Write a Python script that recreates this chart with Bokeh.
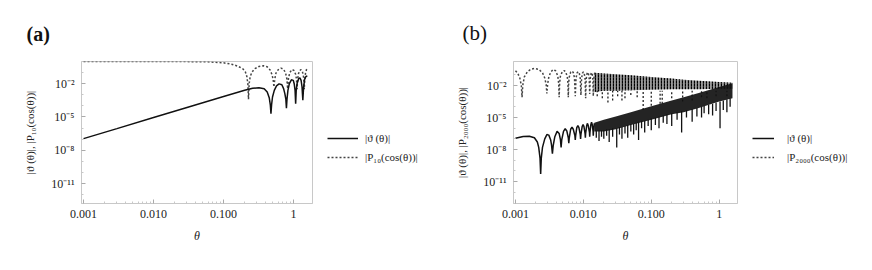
import numpy as np
from bokeh.plotting import figure
from bokeh.models import Range1d, FixedTicker, Legend, LegendItem, Title
from bokeh.layouts import row
from bokeh.embed import file_html
from bokeh.resources import INLINE

FONT = "Liberation Serif"

# ---------------- axes ----------------
x_ticks = [0.001, 0.01, 0.1, 1.0]
x_tick_labels = ["0.001", "0.010", "0.100", "1"]
x_minor = [0.002, 0.003, 0.004, 0.005, 0.006, 0.007, 0.008, 0.009,
           0.02, 0.03, 0.04, 0.05, 0.06, 0.07, 0.08, 0.09,
           0.2, 0.3, 0.4, 0.5, 0.6, 0.7, 0.8, 0.9]
y_ticks = [1e-2, 1e-5, 1e-8, 1e-11]
y_tick_labels = ["10⁻²", "10⁻⁵", "10⁻⁸", "10⁻¹¹"]
y_minor = [1e-1, 1e-3, 1e-4, 1e-6, 1e-7, 1e-9, 1e-10, 1e-12]

# ---------------- panel (a) data (theta, log10 value) ----------------
a_solid = [(0.001, -6.95), (0.003, -6.05), (0.01, -5.05), (0.03, -4.15), (0.1, -3.15),
           (0.2, -2.6), (0.26, -2.42), (0.32, -2.36), (0.38, -2.45), (0.42, -2.75),
           (0.45, -3.3), (0.465, -3.9), (0.475, -4.7), (0.485, -3.9), (0.50, -3.2),
           (0.53, -2.6), (0.57, -2.2), (0.62, -2.02), (0.68, -2.1), (0.72, -2.45),
           (0.75, -2.9), (0.775, -3.4), (0.79, -4.2), (0.805, -3.4), (0.83, -2.6),
           (0.87, -2.0), (0.93, -1.65), (0.99, -1.7), (1.02, -2.0), (1.05, -2.6),
           (1.07, -3.8), (1.09, -2.6), (1.12, -2.0), (1.18, -1.55), (1.23, -1.48),
           (1.28, -1.7), (1.32, -2.3), (1.355, -3.5), (1.39, -2.3), (1.44, -1.6),
           (1.5, -1.35), (1.5708, -1.3)]
a_dashed = [(0.001, -0.01), (0.03, -0.01), (0.06, -0.03), (0.1, -0.12), (0.13, -0.24),
            (0.16, -0.42), (0.19, -0.68), (0.205, -0.95), (0.215, -1.35), (0.222, -2.0),
            (0.227, -3.4), (0.232, -2.0), (0.24, -1.35), (0.255, -0.95), (0.28, -0.65),
            (0.32, -0.45), (0.37, -0.38), (0.42, -0.48), (0.46, -0.75), (0.49, -1.15),
            (0.51, -1.6), (0.524, -2.3), (0.538, -1.6), (0.56, -1.05), (0.6, -0.75),
            (0.66, -0.6), (0.72, -0.7), (0.77, -1.05), (0.80, -1.55), (0.822, -2.45),
            (0.845, -1.55), (0.88, -1.0), (0.95, -0.72), (1.01, -0.8), (1.07, -1.15),
            (1.10, -1.6), (1.12, -2.5), (1.14, -1.6), (1.18, -1.05), (1.26, -0.73),
            (1.33, -0.85), (1.38, -1.3), (1.40, -1.7), (1.42, -2.5), (1.44, -1.7),
            (1.48, -1.05), (1.53, -0.72), (1.5708, -0.61)]

# ---------------- panel (b) data ----------------
b_dashed = [(0.001, -0.62), (0.00108, -0.85), (0.00116, -1.3), (0.00122, -2.0), (0.00125, -3.1),
            (0.00128, -2.0), (0.00135, -1.2), (0.0015, -0.7), (0.0017, -0.47), (0.0019, -0.4),
            (0.0022, -0.48), (0.0025, -0.8), (0.0027, -1.3), (0.00283, -1.9), (0.0029, -2.75),
            (0.00297, -1.9), (0.0031, -1.2), (0.0033, -0.75), (0.0036, -0.5), (0.0039, -0.62),
            (0.0042, -1.1), (0.00433, -1.8), (0.0044, -3.1), (0.00447, -1.8), (0.0046, -1.1),
            (0.0049, -0.7), (0.0052, -0.6), (0.0055, -0.72), (0.0058, -1.2), (0.00593, -1.8),
            (0.006, -3.1), (0.00607, -1.8), (0.0062, -1.2), (0.0065, -0.75), (0.0068, -0.65),
            (0.0071, -0.78), (0.0074, -1.3), (0.0076, -3.0), (0.0078, -1.3), (0.0081, -0.8),
            (0.0084, -0.7), (0.0087, -0.82), (0.009, -1.35), (0.0092, -2.9), (0.0094, -1.35),
            (0.0097, -0.85), (0.01, -0.72), (0.0103, -0.85), (0.0106, -1.4), (0.0108, -3.2),
            (0.011, -1.4), (0.0113, -0.9), (0.0116, -0.76), (0.0119, -0.9), (0.0122, -1.4),
            (0.0124, -2.8), (0.0126, -1.4), (0.0129, -0.92), (0.0132, -0.78), (0.0135, -0.92),
            (0.0138, -1.45), (0.014, -3.0), (0.0142, -1.45), (0.0145, -0.95), (0.0148, -0.8)]
b_solid = [(0.001, -6.95), (0.0013, -6.78), (0.0016, -6.75), (0.0019, -6.9), (0.0021, -7.3),
           (0.0022, -7.8), (0.0023, -8.8), (0.00235, -10.3), (0.0024, -8.8), (0.0025, -7.8),
           (0.0027, -7.0), (0.0029, -6.6), (0.0031, -6.65), (0.0033, -7.1), (0.0034, -7.6),
           (0.0035, -8.4), (0.0036, -7.6), (0.0038, -6.8), (0.0041, -6.3), (0.0044, -6.5),
           (0.0046, -7.1), (0.0047, -7.8), (0.0048, -7.1), (0.0051, -6.3), (0.0054, -6.05),
           (0.0057, -6.25), (0.006, -6.9), (0.0061, -7.4), (0.0062, -6.9), (0.0065, -6.1),
           (0.0068, -5.9), (0.0071, -6.1), (0.0075, -6.7), (0.0076, -7.1), (0.0077, -6.7),
           (0.008, -5.95), (0.0083, -5.75), (0.0086, -5.95), (0.009, -6.6), (0.0091, -7.0),
           (0.0092, -6.6), (0.0096, -5.85), (0.0099, -5.65), (0.0102, -5.85), (0.0106, -6.5),
           (0.0107, -6.9), (0.0108, -6.5), (0.0112, -5.75), (0.0115, -5.55), (0.0118, -5.75),
           (0.0123, -6.4), (0.0124, -6.8), (0.0125, -6.4), (0.0129, -5.65), (0.0132, -5.45),
           (0.0135, -5.65), (0.0139, -6.3), (0.014, -6.7), (0.0141, -6.3), (0.0145, -5.55)]

# dense oscillation region: envelopes (log10)
band_theta = [0.0145, 0.02, 0.03, 0.05, 0.1, 0.2, 0.3, 0.5, 1.0, 1.5708]
solid_upper = [-5.5, -5.22, -4.9, -4.5, -3.95, -3.4, -3.1, -2.7, -2.15, -1.8]
solid_lower = [-6.3, -6.3, -6.1, -5.7, -5.2, -4.7, -4.5, -4.1, -3.5, -3.2]
dashed_upper = [-0.8, -0.88, -0.95, -1.05, -1.2, -1.35, -1.45, -1.55, -1.68, -1.75]
dashed_lower = [-2.6, -2.5, -2.5, -2.45, -2.4, -2.35, -2.35, -2.35, -2.3, -2.3]

# deeper individual zeros in the dense region (theta, top log10, bottom log10)
solid_spike_theta = [0.0155, 0.017, 0.0185, 0.02, 0.022, 0.024, 0.027, 0.031, 0.034, 0.037,
                     0.041, 0.045, 0.05, 0.055, 0.06, 0.065, 0.072, 0.08, 0.09, 0.1,
                     0.115, 0.13, 0.15, 0.17, 0.2, 0.24, 0.28, 0.33, 0.4, 0.47,
                     0.55, 0.6, 0.7, 0.8, 0.9, 1.03, 1.15, 1.3, 1.45]
solid_spike_top = [-6.2, -6.2, -6.2, -6.2, -6.1, -6.1, -6.0, -6.0, -5.9, -5.9,
                   -5.8, -5.7, -5.6, -5.6, -5.5, -5.4, -5.3, -5.3, -5.2, -5.1,
                   -5.0, -4.9, -4.8, -4.7, -4.6, -4.5, -4.4, -4.3, -4.2, -4.1,
                   -4.0, -3.9, -3.8, -3.7, -3.6, -3.5, -3.4, -3.3, -3.2]
solid_spike_bottom = [-6.9, -7.2, -6.8, -7.0, -6.7, -7.3, -6.8, -7.8, -6.6, -7.0,
                      -6.5, -6.9, -6.3, -6.6, -6.2, -7.1, -6.0, -6.4, -5.8, -6.2,
                      -5.7, -6.0, -5.5, -5.6, -5.8, -5.2, -6.4, -5.0, -5.4, -4.9,
                      -5.0, -4.6, -4.7, -4.8, -4.4, -6.0, -4.3, -4.5, -4.0]
dashed_spike_theta = [0.016, 0.019, 0.023, 0.027, 0.032, 0.037, 0.041, 0.05, 0.062, 0.076,
                      0.1, 0.135, 0.145, 0.2, 0.29, 0.4, 0.55, 0.66, 0.9, 1.3]
dashed_spike_top = [-2.5] * 20
dashed_spike_bottom = [-3.0, -3.2, -3.6, -3.4, -3.0, -3.4, -3.2, -2.9, -3.1, -4.3,
                       -3.9, -3.7, -3.7, -3.2, -3.5, -3.4, -3.1, -3.2, -3.0, -3.0]

SOLID = dict(line_color="#111111", line_width=1.5)
DASH = dict(line_color="#444444", line_width=1.5, line_dash="2 2")
FIG_H = 262
B_TOP = 61
B_BOTTOM = 59


def xy(pairs):
    t = np.array([p[0] for p in pairs])
    v = 10.0 ** np.array([p[1] for p in pairs])
    return t, v


def make_fig(width, border_left, y_lo, y_hi, ylabel, tag, tag_style, tag_size, tag_offset):
    title = Title(text=tag, align="left", offset=tag_offset, standoff=34,
                  text_font=FONT, text_font_size=tag_size, text_font_style=tag_style,
                  text_color="#111111")
    p = figure(width=width, height=FIG_H, x_axis_type="log", y_axis_type="log",
               x_range=Range1d(10 ** -3.029, 10 ** 0.27), y_range=Range1d(10 ** y_lo, 10 ** y_hi),
               output_backend="svg", toolbar_location=None, title=title,
               min_border_left=border_left, min_border_right=10,
               min_border_top=B_TOP, min_border_bottom=B_BOTTOM)
    p.background_fill_color = "white"
    p.border_fill_color = "white"
    p.outline_line_color = "#c8c8c8"
    p.grid.visible = False
    p.xaxis.ticker = FixedTicker(ticks=x_ticks, minor_ticks=x_minor)
    p.yaxis.ticker = FixedTicker(ticks=y_ticks, minor_ticks=y_minor)
    p.xaxis.major_label_overrides = {t: l for t, l in zip(x_ticks, x_tick_labels)}
    p.yaxis.major_label_overrides = {t: l for t, l in zip(y_ticks, y_tick_labels)}
    for ax in (p.xaxis[0], p.yaxis[0]):
        ax.axis_line_color = "#c8c8c8"
        ax.major_tick_line_color = "#aaaaaa"
        ax.minor_tick_line_color = "#c8c8c8"
        ax.major_tick_in = 4
        ax.major_tick_out = 0
        ax.minor_tick_in = 2
        ax.minor_tick_out = 0
        ax.major_label_text_font = FONT
        ax.major_label_text_font_size = "12px"
        ax.major_label_text_color = "#222222"
        ax.axis_label_text_font = FONT
        ax.axis_label_text_color = "#222222"
    p.xaxis.major_label_standoff = 6
    p.yaxis.major_label_standoff = 7
    p.xaxis.axis_label = "θ"
    p.xaxis.axis_label_text_font_style = "italic"
    p.xaxis.axis_label_text_font_size = "12px"
    p.xaxis.axis_label_standoff = 8
    p.yaxis.axis_label = ylabel
    p.yaxis.axis_label_text_font_style = "normal"
    p.yaxis.axis_label_text_font_size = "11px"
    p.yaxis.axis_label_standoff = 12
    return p


def legend_fig(width, labels, glyph_w, standoff):
    lf = figure(width=width, height=FIG_H, x_range=Range1d(0, 1), y_range=Range1d(0, 1),
                output_backend="svg", toolbar_location=None,
                x_axis_location=None, y_axis_location=None,
                min_border_left=0, min_border_right=0,
                min_border_top=B_TOP, min_border_bottom=B_BOTTOM)
    lf.outline_line_color = None
    lf.grid.visible = False
    lf.background_fill_color = "white"
    lf.border_fill_color = "white"
    r1 = lf.line([0], [0], **SOLID)
    r2 = lf.line([0], [0], **DASH)
    leg = Legend(items=[LegendItem(label=labels[0], renderers=[r1]),
                        LegendItem(label=labels[1], renderers=[r2])],
                 location=(5, 39), padding=0, margin=0, spacing=5,
                 glyph_width=glyph_w, glyph_height=14, label_height=14,
                 label_standoff=standoff, border_line_color=None,
                 background_fill_alpha=0.0, label_text_font=FONT,
                 label_text_font_size="11px", label_text_color="#222222")
    lf.add_layout(leg, "center")
    return lf


# ---------------- panel (a) ----------------
pa = make_fig(322, 81, -12.8, 0.0, "|ϑ (θ)|, |P₁₀(cos(θ))|", "(a)", "bold", "20px", -55)
tx, vy = xy(a_dashed)
pa.line(tx, vy, **DASH)
tx, vy = xy(a_solid)
pa.line(tx, vy, **SOLID)
la = legend_fig(118, ["|ϑ (θ)|", "|P₁₀(cos(θ))|"], 31, 7)

# ---------------- panel (b) ----------------
pb = make_fig(307, 73, -13.06, 0.25, "|ϑ (θ)|, |P₂₀₀₀(cos(θ))|", "(b)", "normal", "21px", -51)
bt = np.array(band_theta)
pb.varea(x=bt, y1=10.0 ** np.array(dashed_lower), y2=10.0 ** np.array(dashed_upper),
         fill_color="#333333", fill_alpha=0.5, hatch_pattern="vertical_dash",
         hatch_color="#000000", hatch_scale=3, hatch_weight=1.3, hatch_alpha=1.0)
pb.segment(x0=dashed_spike_theta, y0=10.0 ** np.array(dashed_spike_bottom),
           x1=dashed_spike_theta, y1=10.0 ** np.array(dashed_spike_top),
           line_color="#222222", line_width=1.3, line_dash="2 2")
tx, vy = xy(b_dashed)
pb.line(tx, vy, **DASH)
pb.varea(x=bt, y1=10.0 ** np.array(solid_lower), y2=10.0 ** np.array(solid_upper),
         fill_color="#111111", fill_alpha=0.92)
pb.segment(x0=solid_spike_theta, y0=10.0 ** np.array(solid_spike_bottom),
           x1=solid_spike_theta, y1=10.0 ** np.array(solid_spike_top),
           line_color="#111111", line_width=1.3)
tx, vy = xy(b_solid)
pb.line(tx, vy, **SOLID)
lb = legend_fig(117, ["|ϑ (θ)|", "|P₂₀₀₀(cos(θ))|"], 22, 13)

layout = row(pa, la, pb, lb)
open("out.html", "w").write(file_html(layout, INLINE))
